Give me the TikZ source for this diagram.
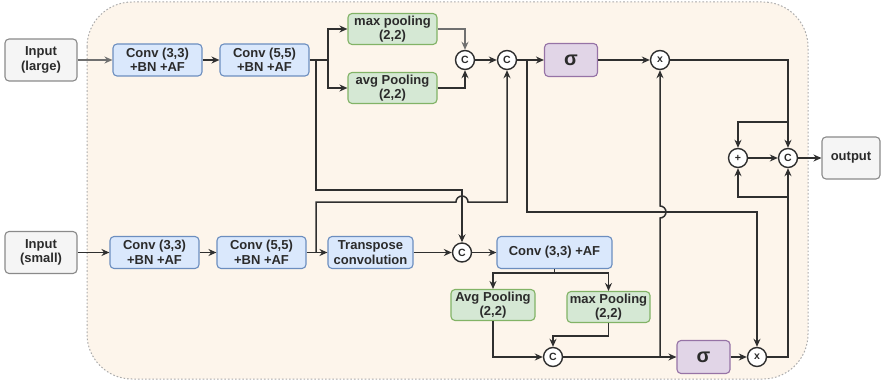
\documentclass[tikz,border=0pt]{standalone}
\usepackage{fontspec}
\setmainfont{Liberation Sans}
\usetikzlibrary{arrows.meta}

\definecolor{panelfill}{HTML}{FDF5EB}
\definecolor{paneledge}{HTML}{ABABAB}
\definecolor{infill}{HTML}{F5F5F5}
\definecolor{inedge}{HTML}{8A8A8A}
\definecolor{convfill}{HTML}{DAE8FC}
\definecolor{convedge}{HTML}{6C8EBF}
\definecolor{poolfill}{HTML}{D5E8D4}
\definecolor{pooledge}{HTML}{82B366}
\definecolor{sigfill}{HTML}{E1D5E7}
\definecolor{sigedge}{HTML}{9673A6}
\definecolor{wire}{HTML}{2F2F2F}
\definecolor{softwire}{HTML}{707070}
\definecolor{ink}{HTML}{2B2B2B}

\tikzset{
  block/.style={draw, rounded corners=4pt, line width=1.1pt, align=center,
    inner sep=0pt, text=ink, font=\bfseries\fontsize{13}{14.5}\selectfont},
  inbox/.style={block, draw=inedge, fill=infill, minimum width=72pt, minimum height=42pt},
  convbox/.style={block, draw=convedge, fill=convfill, minimum height=32pt},
  poolbox/.style={block, draw=pooledge, fill=poolfill, minimum height=31pt},
  sigbox/.style={block, draw=sigedge, fill=sigfill, minimum width=53pt, minimum height=33pt,
    font=\bfseries\fontsize{20}{20}\selectfont},
  op/.style={circle, draw=wire, fill=white, line width=1.4pt, minimum size=19pt,
    inner sep=0pt, text=ink, font=\bfseries\fontsize{10.5}{10.5}\selectfont},
  wireline/.style={draw=wire, line width=1.5pt},
  link/.style={wireline, -{Stealth[length=8pt,width=7pt]}},
}

\begin{document}
\begin{tikzpicture}[x=1pt,y=-1pt]
\useasboundingbox (0,0) rectangle (883,385);

% dotted panel behind the block
\draw[fill=panelfill, draw=paneledge, line width=1pt, dash pattern=on 1.6pt off 2pt,
  rounded corners=45pt] (87,2) rectangle (808,379);

% large input path
\node[inbox] (inL) at (41,60) {Input\\(large)};
\node[convbox, minimum width=89pt] (c33L) at (157.5,60) {Conv (3,3)\\+BN +AF};
\node[convbox, minimum width=89pt] (c55L) at (264.5,60) {Conv (5,5)\\+BN +AF};
\node[poolbox, minimum width=89pt] (maxL) at (392.5,29) {max pooling\\(2,2)};
\node[poolbox, minimum width=89pt] (avgL) at (392.5,88) {avg Pooling\\(2,2)};
\node[op] (catA) at (465,60) {C};
\node[op] (catB) at (507,60) {C};
\node[sigbox] (sigT) at (571,60) {σ};
\node[op] (mulT) at (660,60) {x};

% small input path
\node[inbox] (inS) at (41,252.5) {Input\\(small)};
\node[convbox, minimum width=89pt] (c33S) at (154.5,252.5) {Conv (3,3)\\+BN +AF};
\node[convbox, minimum width=89pt] (c55S) at (261.5,252.5) {Conv (5,5)\\+BN +AF};
\node[convbox, minimum width=85pt] (trans) at (370.5,252.5) {Transpose\\convolution};
\node[op] (catC) at (462,252.5) {C};
\node[convbox, minimum width=115pt] (c33AF) at (554.5,252.5) {Conv (3,3) +AF};
\node[poolbox, minimum width=84pt] (avgS) at (493,305) {Avg Pooling\\(2,2)};
\node[poolbox, minimum width=83pt] (maxS) at (608.5,307) {max Pooling\\(2,2)};
\node[op] (catD) at (553,357) {C};
\node[sigbox] (sigB) at (703.5,357) {σ};
\node[op] (mulB) at (757,357) {x};

% fusion
\node[op] (plus) at (738,158) {+};
\node[op] (catO) at (788,158) {C};
\node[block, draw=inedge, fill=infill, minimum width=58pt, minimum height=42pt] (outp) at (851,158) {output};

\coordinate (splitL) at (328,60);
\coordinate (tapL) at (316,60);
\coordinate (tapS) at (316,252.5);
\coordinate (tapC) at (527,60);
\coordinate (splitS) at (554.5,273);
\coordinate (tapD) at (660,357);
\coordinate (tapT) at (788,122);
\coordinate (tapB) at (788,197);

% top row
\draw[link, draw=softwire] (inL) -- (c33L);
\draw[link] (c33L) -- (c55L);
\draw[wireline] (c55L.east) -- (splitL);
\draw[link] (splitL) |- (maxL.west);
\draw[link] (splitL) |- (avgL.west);
\draw[link, draw=softwire] (maxL.east) -| (catA.north);
\draw[link] (avgL.east) -| (catA.south);
\draw[link] (catA) -- (catB);
\draw[link] (catB) -- (sigT);
\draw[link] (sigT) -- (mulT);

% bottom row
\draw[link] (inS) -- (c33S);
\draw[link] (c33S) -- (c55S);
\draw[link] (c55S) -- (trans);
\draw[link] (trans) -- (catC);
\draw[link] (catC) -- (c33AF);
\draw[wireline] (c33AF.south) -- (splitS);
\draw[link] (splitS) -| (avgS.north);
\draw[link] (splitS) -| (maxS.north);
\draw[link] (avgS.south) |- (catD.west);
\draw[link] (maxS.south) -- ++(0,13) -| (catD.north);
\draw[link] (catD) -- (sigB);
\draw[link] (sigB) -- (mulB);

% cross links between the two paths
\draw[link] (tapL) -- (316,190) -| (catC.north);
\draw[link] (tapS) -- (316,202) -- (456,202) arc[start angle=180, end angle=360, radius=6]
  -| (catB.south);
\draw[link] (tapC) -- (527,212) -| (mulB.north);
\draw[link] (tapD) -- (660,218) arc[start angle=90, end angle=-90, radius=6] -- (mulT.south);

% output stage
\draw[link] (mulT.east) -| (catO.north);
\draw[link] (mulB.east) -| (catO.south);
\draw[link] (tapT) -| (plus.north);
\draw[link] (tapB) -| (plus.south);
\draw[link] (plus) -- (catO);
\draw[link] (catO) -- (outp);
\end{tikzpicture}
\end{document}
